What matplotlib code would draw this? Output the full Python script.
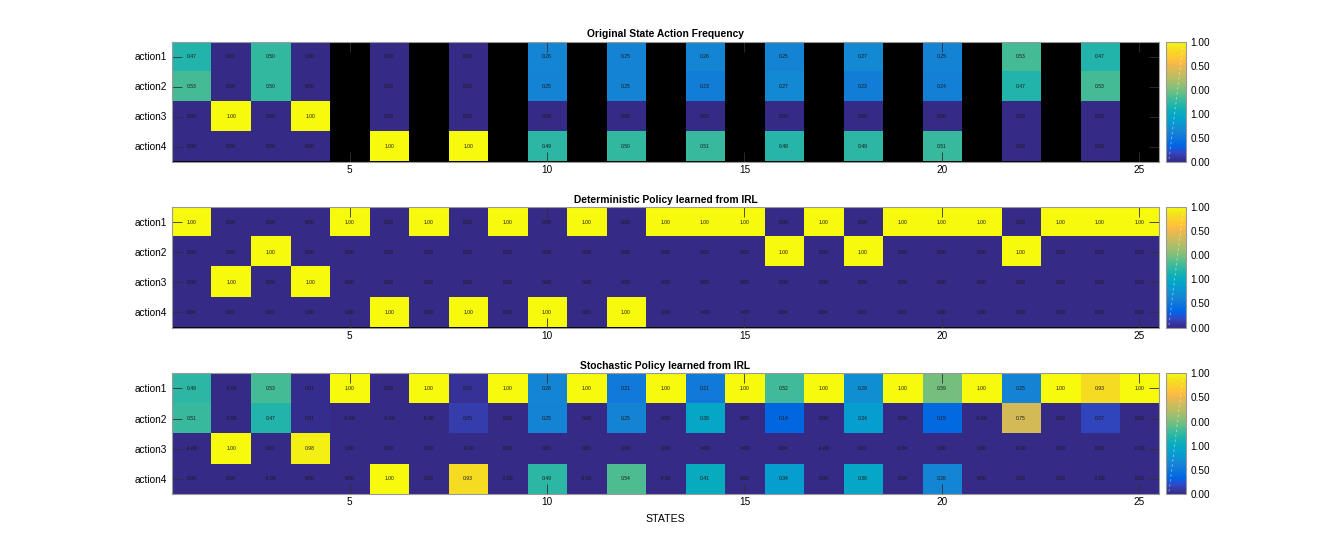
import numpy as np
import matplotlib
matplotlib.use("Agg")
import matplotlib.pyplot as plt
from matplotlib.colors import LinearSegmentedColormap

plt.rcParams['font.family'] = ['Liberation Sans', 'DejaVu Sans']

states = list(range(1, 26))
actions = ['action1', 'action2', 'action3', 'action4']
xtick_vals = [5, 10, 15, 20, 25]
cbar_tick_labels = ['0.00', '0.50', '1.00', '0.00', '0.50', '1.00']

nan = np.nan
# Original State Action Frequency (NaN = unvisited state)
orig_a1 = [0.47, 0.00, 0.50, 0.00, nan, 0.00, nan, 0.00, nan, 0.26, nan, 0.25, nan, 0.26, nan, 0.25, nan, 0.27, nan, 0.25, nan, 0.53, nan, 0.47, nan]
orig_a2 = [0.53, 0.00, 0.50, 0.00, nan, 0.00, nan, 0.00, nan, 0.25, nan, 0.25, nan, 0.23, nan, 0.27, nan, 0.23, nan, 0.24, nan, 0.47, nan, 0.53, nan]
orig_a3 = [0.00, 1.00, 0.00, 1.00, nan, 0.00, nan, 0.00, nan, 0.00, nan, 0.00, nan, 0.00, nan, 0.00, nan, 0.00, nan, 0.00, nan, 0.00, nan, 0.00, nan]
orig_a4 = [0.00, 0.00, 0.00, 0.00, nan, 1.00, nan, 1.00, nan, 0.49, nan, 0.50, nan, 0.51, nan, 0.48, nan, 0.49, nan, 0.51, nan, 0.00, nan, 0.00, nan]

# Deterministic Policy learned from IRL
det_a1 = [1, 0, 0, 0, 1, 0, 1, 0, 1, 0, 1, 0, 1, 1, 1, 0, 1, 0, 1, 1, 1, 0, 1, 1, 1]
det_a2 = [0, 0, 1, 0, 0, 0, 0, 0, 0, 0, 0, 0, 0, 0, 0, 1, 0, 1, 0, 0, 0, 1, 0, 0, 0]
det_a3 = [0, 1, 0, 1, 0, 0, 0, 0, 0, 0, 0, 0, 0, 0, 0, 0, 0, 0, 0, 0, 0, 0, 0, 0, 0]
det_a4 = [0, 0, 0, 0, 0, 1, 0, 1, 0, 1, 0, 1, 0, 0, 0, 0, 0, 0, 0, 0, 0, 0, 0, 0, 0]

# Stochastic Policy learned from IRL
sto_a1 = [0.49, -0.0, 0.53, 0.01, 1.00, 0.00, 1.00, 0.02, 1.00, 0.26, 1.00, 0.21, 1.00, 0.21, 1.00, 0.52, 1.00, 0.29, 1.00, 0.59, 1.00, 0.25, 1.00, 0.93, 1.00]
sto_a2 = [0.51, -0.0, 0.47, 0.01, -0.0, -0.0, -0.0, 0.05, 0.00, 0.25, 0.00, 0.25, 0.00, 0.38, 0.00, 0.14, 0.00, 0.34, 0.00, 0.15, -0.0, 0.75, 0.00, 0.07, 0.00]
sto_a3 = [-0.0, 1.00, 0.00, 0.98, 0.00, 0.00, 0.00, -0.0, 0.00, 0.00, 0.00, 0.00, 0.00, 0.00, 0.00, 0.00, -0.0, 0.00, -0.0, 0.00, 0.00, -0.0, 0.00, 0.00, -0.0]
sto_a4 = [0.00, 0.00, -0.0, 0.00, 0.00, 1.00, 0.00, 0.93, -0.0, 0.49, -0.0, 0.54, -0.0, 0.41, 0.00, 0.34, 0.00, 0.38, 0.00, 0.26, 0.00, 0.00, 0.00, -0.0, 0.00]

panels = [
    ('Original State Action Frequency', [orig_a1, orig_a2, orig_a3, orig_a4]),
    ('Deterministic Policy learned from IRL', [det_a1, det_a2, det_a3, det_a4]),
    ('Stochastic Policy learned from IRL', [sto_a1, sto_a2, sto_a3, sto_a4]),
]

parula_data = [
    [0.2081, 0.1663, 0.5292], [0.2116, 0.1898, 0.5777], [0.2123, 0.2138, 0.6270], [0.2081, 0.2386, 0.6771],
    [0.1959, 0.2645, 0.7279], [0.1707, 0.2919, 0.7792], [0.1253, 0.3242, 0.8303], [0.0591, 0.3598, 0.8683],
    [0.0117, 0.3875, 0.8820], [0.0060, 0.4086, 0.8828], [0.0165, 0.4266, 0.8786], [0.0329, 0.4430, 0.8720],
    [0.0498, 0.4586, 0.8641], [0.0629, 0.4737, 0.8554], [0.0723, 0.4887, 0.8467], [0.0779, 0.5040, 0.8384],
    [0.0793, 0.5200, 0.8312], [0.0749, 0.5375, 0.8263], [0.0641, 0.5570, 0.8240], [0.0488, 0.5772, 0.8228],
    [0.0343, 0.5966, 0.8199], [0.0265, 0.6137, 0.8135], [0.0239, 0.6287, 0.8038], [0.0231, 0.6418, 0.7913],
    [0.0228, 0.6535, 0.7768], [0.0267, 0.6642, 0.7607], [0.0384, 0.6743, 0.7436], [0.0590, 0.6838, 0.7254],
    [0.0843, 0.6928, 0.7062], [0.1133, 0.7015, 0.6859], [0.1453, 0.7098, 0.6646], [0.1801, 0.7177, 0.6424],
    [0.2178, 0.7250, 0.6193], [0.2586, 0.7317, 0.5954], [0.3022, 0.7376, 0.5712], [0.3482, 0.7424, 0.5473],
    [0.3953, 0.7459, 0.5244], [0.4420, 0.7481, 0.5033], [0.4871, 0.7491, 0.4840], [0.5300, 0.7491, 0.4661],
    [0.5709, 0.7485, 0.4494], [0.6099, 0.7473, 0.4337], [0.6473, 0.7456, 0.4188], [0.6834, 0.7435, 0.4044],
    [0.7184, 0.7411, 0.3905], [0.7525, 0.7384, 0.3768], [0.7858, 0.7356, 0.3633], [0.8185, 0.7327, 0.3498],
    [0.8507, 0.7299, 0.3360], [0.8824, 0.7274, 0.3217], [0.9139, 0.7258, 0.3063], [0.9450, 0.7261, 0.2886],
    [0.9739, 0.7314, 0.2666], [0.9938, 0.7455, 0.2403], [0.9990, 0.7653, 0.2164], [0.9955, 0.7861, 0.1967],
    [0.9880, 0.8066, 0.1794], [0.9789, 0.8271, 0.1633], [0.9697, 0.8481, 0.1475], [0.9626, 0.8705, 0.1309],
    [0.9589, 0.8949, 0.1132], [0.9598, 0.9218, 0.0948], [0.9661, 0.9514, 0.0755], [0.9763, 0.9831, 0.0538],
]
parula = LinearSegmentedColormap.from_list('parula', parula_data)
parula.set_bad('black')

W, H = 1334, 555
fig = plt.figure(figsize=(W / 100, H / 100), dpi=100)

ax_left, ax_right = 172, 1159
tops = [41.5, 207.3, 373.3]
bottoms = [161.5, 327.5, 494.0]
cb_left, cb_right = 1166, 1186

frame_col = '#9a9a9a'
tick_col = '#303030'

for (title, rows), top, bot in zip(panels, tops, bottoms):
    data = np.array(rows, dtype=float)
    ax = fig.add_axes([ax_left / W, 1 - bot / H, (ax_right - ax_left) / W, (bot - top) / H])
    ax.set_facecolor('black')
    im = ax.imshow(np.ma.masked_invalid(data), cmap=parula, vmin=0, vmax=1, aspect='auto',
                   interpolation='nearest', extent=(0.5, 25.5, 4.5, 0.5))
    ax.set_xlim(0.5, 25.5)
    ax.set_ylim(4.5, 0.5)
    for i in range(data.shape[0]):
        for j in range(data.shape[1]):
            v = data[i, j]
            if np.isfinite(v):
                ax.text(states[j], i + 1, f'{v:.2f}', ha='center', va='center', fontsize=3.6, color='#1a1a1a')
    ax.set_xticks(xtick_vals)
    ax.set_xticklabels([str(v) for v in xtick_vals], fontsize=7.2)
    ax.set_yticks(range(1, 5))
    ax.set_yticklabels(actions, fontsize=7.2)
    ax.tick_params(axis='both', direction='in', length=7, width=0.6, color=tick_col,
                   top=True, right=True)
    ax.tick_params(axis='x', pad=2.5)
    ax.tick_params(axis='y', pad=3.5)
    for s in ax.spines.values():
        s.set_color(frame_col)
        s.set_linewidth(0.8)
    ax.set_title(title, fontsize=7.4, fontweight='bold', pad=3)

    cax = fig.add_axes([cb_left / W, 1 - bot / H, (cb_right - cb_left) / W, (bot - top) / H])
    cb = fig.colorbar(im, cax=cax)
    cb.set_ticks([0, 0.2, 0.4, 0.6, 0.8, 1.0])
    cb.set_ticklabels(cbar_tick_labels)
    cax.tick_params(labelsize=7.2, length=0, pad=3)
    cb.outline.set_edgecolor(frame_col)
    cb.outline.set_linewidth(0.8)
    cax.plot([0.15, 0.85], [0.02, 0.97], transform=cax.transAxes, color='white',
             lw=0.6, ls=(0, (3, 3)), alpha=0.5)

fig.text((ax_left + ax_right) / 2 / W, 1 - 519 / H, 'STATES', ha='center', va='center', fontsize=7.6)

fig.savefig('out.png', dpi=100)
